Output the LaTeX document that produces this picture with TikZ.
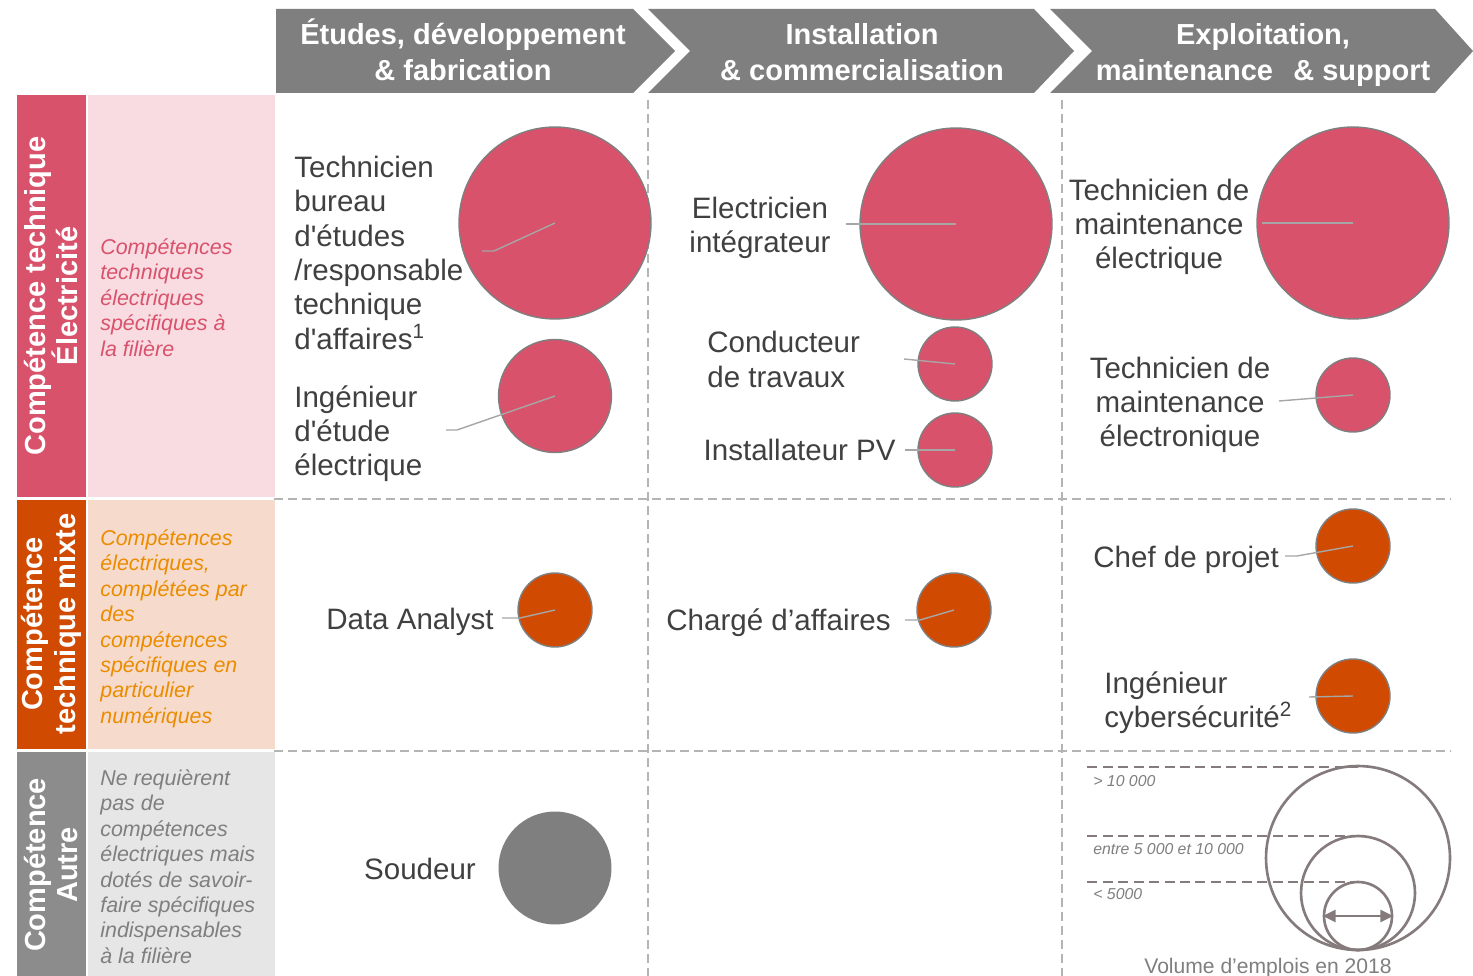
\documentclass[tikz,border=0pt]{standalone}
\usepackage{fontspec}
\setmainfont{Liberation Sans}
\usepackage{tikz}
\usetikzlibrary{arrows.meta}
\usetikzlibrary{positioning}

\definecolor{pinkc}{HTML}{D9526B}
\definecolor{pinklight}{HTML}{F8DCE2}
\definecolor{orangec}{HTML}{D04A02}
\definecolor{orangelight}{HTML}{F6DBCC}
\definecolor{orangetext}{HTML}{EB8C00}
\definecolor{greybar}{HTML}{8C8C8C}
\definecolor{greylight}{HTML}{E6E6E6}
\definecolor{headgrey}{HTML}{7F7F7F}
\definecolor{gridgrey}{HTML}{B4B4B4}
\definecolor{leadgrey}{HTML}{A6A6A6}
\definecolor{textgrey}{HTML}{404040}
\definecolor{legendgrey}{HTML}{857B7C}

\tikzset{
    font={\fontsize{16.8pt}{19.5pt}\selectfont},
    head/.style={
           text=white,
           font={\fontsize{16.5pt}{20.4pt}\selectfont\bfseries},
           align=center,
           inner sep=0pt,
           },
    barlabel/.style={
           rotate=90,
           text=white,
           font={\fontsize{16.5pt}{18.7pt}\selectfont\bfseries},
           align=center,
           inner sep=0pt,
           },
    desc/.style={
           anchor=north west,
           align=left,
           inner sep=0pt,
           font={\fontsize{12.2pt}{14.5pt}\selectfont\itshape},
           },
    job/.style={text=textgrey, inner sep=0pt},
    bubble/.style={circle, draw=headgrey, line width=0.8pt, inner sep=0pt},
    bigbubble/.style={bubble, minimum size=3.84cm},
    midbubble/.style={bubble, minimum size=2.26cm},
    smallbubble/.style={bubble, minimum size=1.48cm},
    leader/.style={draw=leadgrey, line width=0.8pt},
    gridline/.style={draw=gridgrey, line width=1.1pt, dash pattern=on 0.18cm off 0.1cm},
    scaleline/.style={draw=legendgrey, line width=1.2pt, dash pattern=on 0.2cm off 0.11cm},
    scalecircle/.style={circle, draw=legendgrey, line width=1.5pt, inner sep=0pt},
    scaletext/.style={
           text=headgrey,
           font={\fontsize{9pt}{11pt}\selectfont\itshape},
           anchor=base west,
           inner sep=0pt,
           },
}

\begin{document}
\begin{tikzpicture}[x=0.02cm,y=-0.02cm]
\path[use as bounding box, fill=white] (0,0) rectangle (1473,976);

% header arrows
\fill[headgrey] (276,9) -- (633,9) -- (675,51) -- (633,93) -- (276,93) -- cycle;
\fill[headgrey] (648,9) -- (1034,9) -- (1074,51) -- (1034,93) -- (648,93) -- (690,51) -- cycle;
\fill[headgrey] (1050,9) -- (1435,9) -- (1473,51) -- (1435,93) -- (1050,93) -- (1092,51) -- cycle;
\node[head] (ETUDES) at (463,50) {Études, développement\\\& fabrication};
\node[head] (INSTALL) at (862,52) {Installation\\\& commercialisation};
\node[head] (EXPLOIT) at (1263,55) {Exploitation,\\maintenance\hspace{0.7em}\& support};

% row bands
\fill[pinkc] (17,95) rectangle (86,497);
\fill[pinklight] (88,95) rectangle (275,497);
\fill[orangec] (17,500) rectangle (86,749);
\fill[orangelight] (88,500) rectangle (275,749);
\fill[greybar] (17,752) rectangle (86,976);
\fill[greylight] (88,752) rectangle (275,976);

\node[barlabel] (ELECBAR) at (51,296) {Compétence technique\\Électricité};
\node[barlabel] (MIXBAR) at (51,624) {Compétence\\technique mixte};
\node[barlabel] (OTHERBAR) at (51,865) {Compétence\\Autre};

\node[desc, text=pinkc] (ELECDESC) at (100,238) {Compétences\\techniques\\électriques\\spécifiques à\\la filière};
\node[desc, text=orangetext] (MIXDESC) at (100,529) {Compétences\\électriques,\\complétées par\\des\\compétences\\spécifiques en\\particulier\\numériques};
\node[desc, text=headgrey] (OTHERDESC) at (100,769) {Ne requièrent\\pas de\\compétences\\électriques mais\\dotés de savoir-\\faire spécifiques\\indispensables\\à la filière};

% grid
\draw[gridline] (648,100) -- (648,976);
\draw[gridline] (1062,100) -- (1062,976);
\draw[gridline] (274,499) -- (1450,499);
\draw[gridline] (274,751) -- (1450,751);

% bubbles
\node[bigbubble, fill=pinkc] (TBEBUB) at (555,223) {};
\node[midbubble, fill=pinkc] (IDEBUB) at (555,396) {};
\node[bigbubble, fill=pinkc] (ELECBUB) at (956,224) {};
\node[smallbubble, fill=pinkc] (CDTBUB) at (955,364) {};
\node[smallbubble, fill=pinkc] (IPVBUB) at (955,450) {};
\node[bigbubble, fill=pinkc] (TMEBUB) at (1353,223) {};
\node[smallbubble, fill=pinkc] (TMENBUB) at (1353,395) {};
\node[smallbubble, fill=orangec] (DATABUB) at (555,610) {};
\node[smallbubble, fill=orangec] (CHARGEBUB) at (954,610) {};
\node[smallbubble, fill=orangec] (CHEFBUB) at (1353,546) {};
\node[smallbubble, fill=orangec] (CYBERBUB) at (1353,696) {};
\node[midbubble, fill=headgrey, draw=none] (SOUDBUB) at (555,868) {};

% job labels
\node[job, anchor=north west, align=left] (TBE) at (294,156) {Technicien\\bureau\\d\textquotesingle études\\/responsable\\technique\\d\textquotesingle affaires\textsuperscript{1}};
\node[job, anchor=north west, align=left] (IDE) at (294,385) {Ingénieur\\d\textquotesingle étude\\électrique};
\node[job, align=center] (ELEC) at (760,228) {Electricien\\intégrateur};
\node[job, anchor=north west, align=left] (CDT) at (707,331) {Conducteur\\de travaux};
\node[job, anchor=base east] (IPV) at (896,460) {Installateur PV};
\node[job, align=center] (TME) at (1159,227) {Technicien de\\maintenance\\électrique};
\node[job, align=center] (TMEN) at (1180,405) {Technicien de\\maintenance\\électronique};
\node[job, anchor=base east] (DATA) at (494,629) {Data Analyst};
\node[job, anchor=base east] (CHARGE) at (891,630) {Chargé d’affaires};
\node[job, anchor=base west] (CHEF) at (1093,567) {Chef de projet};
\node[job, anchor=north west, align=left] (CYBER) at (1104,671) {Ingénieur\\cybersécurité\textsuperscript{2}};
\node[job, anchor=base] (SOUD) at (420,879) {Soudeur};

% leaders
\coordinate (TBEEND) at (482,251);
\coordinate (IDEEND) at (446,430);
\coordinate (ELECEND) at (846,224);
\coordinate (CDTEND) at (904,359);
\coordinate (IPVEND) at (905,450);
\coordinate (TMEEND) at (1262,223);
\coordinate (TMENEND) at (1279,401);
\coordinate (DATAEND) at (502,618);
\coordinate (CHARGEEND) at (905,620);
\coordinate (CHEFEND) at (1285,556);
\coordinate (CYBEREND) at (1309,697);

\draw[leader] (TBEEND) -- ++(12,0) -- (TBEBUB.center);
\draw[leader] (IDEEND) -- ++(11,0) -- (IDEBUB.center);
\draw[leader] (DATAEND) -- ++(18,0) -- (DATABUB.center);
\draw[leader] (CHARGEEND) -- ++(15,0) -- (CHARGEBUB.center);
\draw[leader] (CHEFEND) -- ++(12,0) -- (CHEFBUB.center);
\path (ELECEND) edge[leader] (ELECBUB.center)
      (CDTEND) edge[leader] (CDTBUB.center)
      (IPVEND) edge[leader] (IPVBUB.center)
      (TMEEND) edge[leader] (TMEBUB.center)
      (TMENEND) edge[leader] (TMENBUB.center)
      (CYBEREND) edge[leader] (CYBERBUB.center);

% scale
\node[scalecircle, minimum size=3.68cm] (SCALEBIG) at (1358,858) {};
\node[scalecircle, minimum size=2.28cm] (SCALEMID) at (1358,893) {};
\node[scalecircle, minimum size=1.36cm] (SCALESMALL) at (1358,916) {};
\coordinate (BIGTICK) at (1087,767);
\coordinate (MIDTICK) at (1087,836);
\coordinate (SMALLTICK) at (1087,882);
\draw[scaleline] (BIGTICK) -- (BIGTICK -| SCALEBIG.north);
\draw[scaleline] (MIDTICK) -- (MIDTICK -| SCALEMID.north);
\draw[scaleline] (SMALLTICK) -- (SMALLTICK -| SCALESMALL.north);
\draw[draw=legendgrey, line width=1.5pt, {Triangle[length=0.26cm,width=0.24cm]}-{Triangle[length=0.26cm,width=0.24cm]}] (SCALESMALL.west) -- (SCALESMALL.east);

\node[scaletext] (MORE) at (1093,786) {> 10 000};
\node[scaletext] (BETWEEN) at (1093,854) {entre 5 000 et 10 000};
\node[scaletext] (LESS) at (1093,899) {< 5000};
\node[text=headgrey, font={\fontsize{12pt}{14pt}\selectfont}, anchor=base, inner sep=0pt] (VOLUME) at (1268,973) {Volume d’emplois en 2018};

\end{tikzpicture}
\end{document}
